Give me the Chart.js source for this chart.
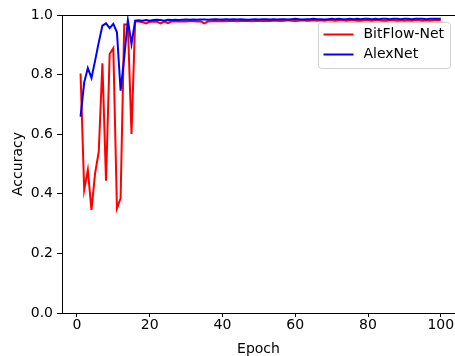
<!DOCTYPE html>
<html>
<head>
<meta charset="utf-8">
<script src="https://cdn.jsdelivr.net/npm/chart.js@4.4.0/dist/chart.umd.min.js"></script>
<style>
  html, body { margin: 0; padding: 0; background: #fff; overflow: hidden; }
  #wrap { width: 455px; height: 356px; }
</style>
</head>
<body>
<div id="wrap"><canvas id="grafico" width="455" height="356"></canvas></div>
<script>
// Épocas (eixo X)
var epocas = [
  1, 2, 3, 4, 5, 6, 7, 8, 9, 10, 11, 12, 13, 14, 15, 16, 17, 18, 19, 20,
  21, 22, 23, 24, 25, 26, 27, 28, 29, 30, 31, 32, 33, 34, 35, 36, 37, 38, 39, 40,
  41, 42, 43, 44, 45, 46, 47, 48, 49, 50, 51, 52, 53, 54, 55, 56, 57, 58, 59, 60,
  61, 62, 63, 64, 65, 66, 67, 68, 69, 70, 71, 72, 73, 74, 75, 76, 77, 78, 79, 80,
  81, 82, 83, 84, 85, 86, 87, 88, 89, 90, 91, 92, 93, 94, 95, 96, 97, 98, 99, 100
];

// Acurácia da BitFlow-Net (vermelho)
var bitflowNet = [
  0.804, 0.413, 0.480, 0.346, 0.469, 0.541, 0.838, 0.444, 0.869, 0.889,
  0.351, 0.385, 0.968, 0.968, 0.601, 0.978, 0.978, 0.976, 0.972, 0.977,
  0.978, 0.977, 0.972, 0.978, 0.973, 0.978, 0.979, 0.978, 0.979, 0.978,
  0.979, 0.979, 0.978, 0.979, 0.972, 0.978, 0.979, 0.980, 0.979, 0.980,
  0.979, 0.980, 0.980, 0.979, 0.980, 0.981, 0.980, 0.979, 0.980, 0.981,
  0.980, 0.981, 0.980, 0.981, 0.981, 0.980, 0.981, 0.982, 0.981, 0.980,
  0.981, 0.982, 0.981, 0.981, 0.982, 0.981, 0.982, 0.981, 0.982, 0.982,
  0.981, 0.982, 0.982, 0.981, 0.982, 0.982, 0.981, 0.981, 0.982, 0.982,
  0.981, 0.982, 0.982, 0.981, 0.981, 0.982, 0.982, 0.981, 0.982, 0.981,
  0.982, 0.981, 0.982, 0.982, 0.981, 0.982, 0.981, 0.982, 0.982, 0.982
];

// Acurácia da AlexNet (azul)
var alexNet = [
  0.659, 0.774, 0.822, 0.789, 0.847, 0.908, 0.964, 0.972, 0.956, 0.970,
  0.942, 0.746, 0.858, 0.983, 0.903, 0.981, 0.982, 0.981, 0.983, 0.981,
  0.983, 0.984, 0.983, 0.981, 0.984, 0.983, 0.984, 0.983, 0.984, 0.985,
  0.984, 0.985, 0.984, 0.985, 0.985, 0.984, 0.985, 0.986, 0.985, 0.985,
  0.986, 0.985, 0.986, 0.985, 0.986, 0.985, 0.984, 0.985, 0.986, 0.985,
  0.986, 0.986, 0.985, 0.986, 0.985, 0.986, 0.986, 0.985, 0.986, 0.987,
  0.986, 0.985, 0.986, 0.986, 0.987, 0.986, 0.986, 0.985, 0.986, 0.987,
  0.986, 0.987, 0.986, 0.986, 0.987, 0.986, 0.987, 0.986, 0.987, 0.987,
  0.986, 0.987, 0.986, 0.987, 0.987, 0.986, 0.987, 0.987, 0.986, 0.987,
  0.987, 0.986, 0.987, 0.987, 0.987, 0.986, 0.987, 0.987, 0.987, 0.987
];

// Rótulos dos ticks
var ticksX = [0, 20, 40, 60, 80, 100];
var ticksY = [0.0, 0.2, 0.4, 0.6, 0.8, 1.0];

var fonte = { family: 'DejaVu Sans', size: 14 };

// Monta os pares {x, y} para o Chart.js
function pares(valores) {
    return valores.map(function (v, i) { return { x: epocas[i], y: v }; });
}

// Borda superior (spine) e legenda dentro do gráfico
var extras = {
    id: 'extras',
    afterDatasetsDraw: function (chart) {
        var ctx = chart.ctx;
        var area = chart.chartArea;
        ctx.save();
        ctx.strokeStyle = '#000';
        ctx.lineWidth = 1;
        ctx.beginPath();
        ctx.moveTo(area.left, area.top + 0.5);
        ctx.lineTo(chart.width, area.top + 0.5);
        ctx.stroke();

        // legenda
        var x0 = 318.5, y0 = 22.5, w = 132, h = 46;
        ctx.beginPath();
        ctx.roundRect(x0, y0, w, h, 3);
        ctx.fillStyle = 'rgba(255,255,255,0.8)';
        ctx.fill();
        ctx.strokeStyle = '#d0d0d0';
        ctx.stroke();
        ctx.font = '14px "DejaVu Sans"';
        ctx.textBaseline = 'middle';
        chart.data.datasets.forEach(function (ds, i) {
            var yy = y0 + 12 + i * 20;
            ctx.strokeStyle = ds.borderColor;
            ctx.lineWidth = 2;
            ctx.beginPath();
            ctx.moveTo(x0 + 5, yy);
            ctx.lineTo(x0 + 35, yy);
            ctx.stroke();
            ctx.fillStyle = '#000';
            ctx.fillText(ds.label, x0 + 45, yy);
        });
        ctx.restore();
    }
};

var ctx = document.getElementById('grafico').getContext('2d');

var grafico = new Chart(ctx, {
    type: 'line',
    data: {
        datasets: [{
            label: 'BitFlow-Net',
            data: pares(bitflowNet),
            borderColor: '#ff0000',
            borderWidth: 2,
            pointRadius: 0,
            fill: false,
            order: 2
        }, {
            label: 'AlexNet',
            data: pares(alexNet),
            borderColor: '#0000ff',
            borderWidth: 2,
            pointRadius: 0,
            fill: false,
            order: 1
        }]
    },
    options: {
        responsive: false,
        animation: false,
        layout: { padding: { top: 15, right: 0, left: 0, bottom: 0 } },
        plugins: {
            legend: { display: false },
            tooltip: { enabled: false }
        },
        scales: {
            x: {
                type: 'linear',
                min: -4.1,
                max: 103.9,
                afterBuildTicks: function (scale) {
                    scale.ticks = ticksX.map(function (v) { return { value: v }; });
                },
                afterFit: function (scale) { scale.height = 43; },
                grid: { drawOnChartArea: false, tickLength: 4, tickColor: '#000' },
                border: { display: true, color: '#000', width: 1 },
                ticks: { color: '#000', font: fonte, padding: 0, maxRotation: 0 },
                title: { display: true, text: 'Epoch', color: '#000', font: fonte, padding: { top: 0, bottom: -2 } }
            },
            y: {
                min: 0,
                max: 1,
                afterBuildTicks: function (scale) {
                    scale.ticks = ticksY.map(function (v) { return { value: v }; });
                },
                afterFit: function (scale) { scale.width = 62; },
                grid: { drawOnChartArea: false, tickLength: 5, tickColor: '#000' },
                border: { display: true, color: '#000', width: 1 },
                ticks: {
                    color: '#000', font: fonte, padding: 4,
                    callback: function (v) { return v.toFixed(1); }
                },
                title: { display: true, text: 'Accuracy', color: '#000', font: fonte, padding: { top: 10, bottom: 0 } }
            }
        }
    },
    plugins: [extras]
});
</script>
</body>
</html>
